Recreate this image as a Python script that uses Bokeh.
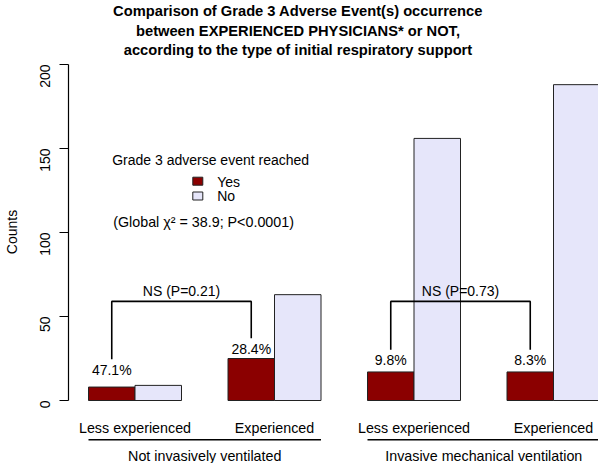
import math
from bokeh.plotting import figure
from bokeh.models import Range1d, LinearAxis, FixedTicker, ColumnDataSource, Label
from bokeh.core.properties import value
from bokeh.embed import file_html
from bokeh.resources import INLINE

# ---------------- data ----------------
support_groups = ["Not invasively ventilated", "Invasive mechanical ventilation"]
experience = ["Less experienced", "Experienced", "Less experienced", "Experienced"]
yes_counts = [8, 25, 17, 17]
no_counts = [9, 63, 156, 188]
pct_labels = ["47.1%", "28.4%", "9.8%", "8.3%"]
p_labels = ["NS (P=0.21)", "NS (P=0.73)"]
y_ticks = [0, 50, 100, 150, 200]
legend_title = "Grade 3 adverse event reached"
legend_items = ["Yes", "No"]
chi_text = "(Global \u03c7\u00b2 = 38.9; P<0.0001)"
title_lines = [
    "Comparison of Grade 3 Adverse Event(s) occurrence",
    "between EXPERIENCED PHYSICIANS* or NOT,",
    "according to the type of initial respiratory support",
]

# ---------------- layout helpers ----------------
W, H = 598, 463
FONT = value("Liberation Sans")
YES_COLOR = "#8B0000"
NO_COLOR = "#E6E6FA"
PX_PER_UNIT = 46.5
X_ZERO = 41.5      # pixel x of unit 0
Y_ZERO = 400.0     # pixel y of count 0
PX_PER_COUNT = 1.68
AXIS_X = 68
TEXT_DY = 4.5      # text is drawn a little lower than its anchor


def ux(sx):
    return (sx - X_ZERO) / PX_PER_UNIT


def cy(sy):
    return (Y_ZERO - sy) / PX_PER_COUNT


def ty(sy):
    # anchor for a text whose baseline should sit at pixel row sy
    return cy(sy - TEXT_DY)


p = figure(width=W, height=H,
           x_range=Range1d(ux(AXIS_X), ux(W)), y_range=Range1d(cy(H), cy(0)),
           output_backend="svg", toolbar_location=None,
           x_axis_type=None, y_axis_type=None,
           min_border_left=AXIS_X, min_border_right=0, min_border_top=0, min_border_bottom=0)
p.outline_line_color = None
p.background_fill_color = "white"
p.border_fill_color = "white"

yaxis = LinearAxis(ticker=FixedTicker(ticks=y_ticks), bounds=(0, 200),
                   axis_label="Counts",
                   major_tick_out=9, major_tick_in=0, minor_tick_out=0, minor_tick_in=0,
                   major_label_orientation=math.pi / 2, major_label_standoff=15,
                   axis_label_standoff=12,
                   axis_line_color="black", major_tick_line_color="black",
                   axis_line_width=1.2, major_tick_line_width=1.2,
                   major_label_text_font="Liberation Sans", major_label_text_font_size="14px",
                   major_label_text_color="black",
                   axis_label_text_font="Liberation Sans", axis_label_text_font_size="14px",
                   axis_label_text_font_style="normal", axis_label_text_color="black")
p.add_layout(yaxis, "left")

# bars
yes_left = [1 + 3 * i for i in range(len(yes_counts))]
src_yes = ColumnDataSource(dict(left=yes_left, right=[x + 1 for x in yes_left],
                                top=yes_counts, bottom=[0] * len(yes_counts)))
src_no = ColumnDataSource(dict(left=[x + 1 for x in yes_left], right=[x + 2 for x in yes_left],
                               top=no_counts, bottom=[0] * len(no_counts)))
p.quad(left="left", right="right", top="top", bottom="bottom", source=src_yes,
       fill_color=YES_COLOR, line_color="#222222", line_width=1)
p.quad(left="left", right="right", top="top", bottom="bottom", source=src_no,
       fill_color=NO_COLOR, line_color="#222222", line_width=1)

# percentage labels
label_offsets = [7.5, 3.0, 4.2, 4.2]
yes_centers = [x + 0.5 for x in yes_left]
label_y = [c + o for c, o in zip(yes_counts, label_offsets)]
dy_counts = TEXT_DY / PX_PER_COUNT
p.text(x=yes_centers, y=[v + dy_counts for v in label_y], text=pct_labels, text_font=FONT,
       text_font_size=value("14px"), text_align="center", text_baseline="alphabetic",
       text_color="black")

# brackets
bracket_top = 59
xs, ys, ns_x = [], [], []
for j in range(len(p_labels)):
    a, b = 2 * j, 2 * j + 1
    xs.append([yes_centers[a], yes_centers[a], yes_centers[b], yes_centers[b]])
    ys.append([label_y[a] + 9, bracket_top, bracket_top, label_y[b] + 9])
    ns_x.append((yes_centers[a] + yes_centers[b]) / 2)
p.multi_line(xs=xs, ys=ys, line_color="black", line_width=1.6)
p.text(x=ns_x, y=[bracket_top + 3.6 + dy_counts] * len(ns_x), text=p_labels, text_font=FONT,
       text_font_size=value("14px"), text_align="center", text_baseline="alphabetic",
       text_color="black")

# category labels
cat_x = [x + 1 for x in yes_left]
p.text(x=cat_x, y=[ty(431.7)] * len(cat_x), text=experience, text_font=FONT,
       text_font_size=value("14.3px"), text_align="center", text_baseline="alphabetic",
       text_color="black")
grp_x0 = [1 + 6 * j for j in range(len(support_groups))]
p.multi_line(xs=[[g, g + 5] for g in grp_x0], ys=[[cy(439.3), cy(439.3)] for _ in grp_x0],
             line_color="black", line_width=1.6)
p.text(x=[g + 2.5 for g in grp_x0], y=[ty(459.5)] * len(grp_x0), text=support_groups,
       text_font=FONT, text_font_size=value("14.3px"), text_align="center",
       text_baseline="alphabetic", text_color="black")

# legend
p.text(x=[ux(111.7)], y=[ty(164.3)], text=[legend_title], text_font=FONT,
       text_font_size=value("14px"), text_align="left", text_baseline="alphabetic",
       text_color="black")
p.rect(x=[ux(197.3)] * 2, y=[cy(180.7), cy(195.5)], width=10, height=8,
       width_units="screen", height_units="screen",
       fill_color=[YES_COLOR, NO_COLOR], line_color="#222222", line_width=1)
p.text(x=[ux(216.7)] * 2, y=[ty(185.8), ty(200)], text=legend_items, text_font=FONT,
       text_font_size=value("14px"), text_align="left", text_baseline="alphabetic",
       text_color="black")
p.text(x=[ux(112.7)], y=[ty(226)], text=[chi_text], text_font=FONT,
       text_font_size=value("14.3px"), text_align="left", text_baseline="alphabetic",
       text_color="black")

# title
for line, sy in zip(title_lines, [14.5, 34.5, 54]):
    p.add_layout(Label(x=ux(297.5), y=ty(sy), text=line, text_align="center",
                       text_baseline="alphabetic", text_font="Liberation Sans",
                       text_font_size="14.7px", text_font_style="bold", text_color="black"))

open("out.html", "w").write(file_html(p, INLINE))
